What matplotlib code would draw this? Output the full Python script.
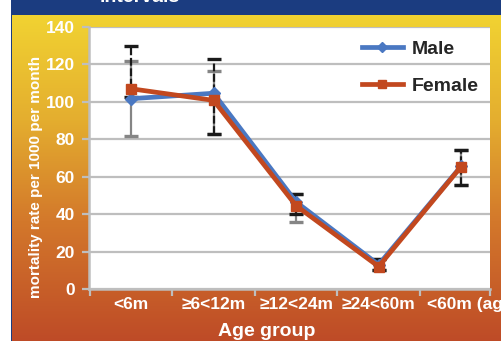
import numpy as np
import matplotlib
matplotlib.use("Agg")
import matplotlib.pyplot as plt
from matplotlib.colors import LinearSegmentedColormap
from matplotlib.patches import Rectangle
from matplotlib.lines import Line2D
from matplotlib.transforms import ScaledTranslation

plt.rcParams['font.family'] = ['Liberation Sans', 'DejaVu Sans']

categories = ['<6m', '≥6<12m', '≥12<24m', '≥24<60m', '<60m (aggregate)']
male = [101.7, 104.6, 46.5, 13.0, 65.6]
female = [107.0, 100.8, 44.5, 12.0, 65.4]
male_lo = [81.8, 83.0, 36.0, 10.2, 55.6]
male_hi = [122.0, 116.7, 50.8, 16.0, 74.3]
female_lo = [102.8, 83.0, 40.1, 10.2, 55.6]
female_hi = [130.1, 123.0, 50.8, 16.0, 74.3]
yticks = [0, 20, 40, 60, 80, 100, 120, 140]

W, H = 502, 341
fig = plt.figure(figsize=(W / 100, H / 100), dpi=100)

# background gradient
bg = fig.add_axes([0, 0, 1, 1], zorder=-10)
stops = [(0.0, '#F3D832'), (0.35, '#E4AE2F'), (0.65, '#D3782B'), (1.0, '#BE4B27')]
cmap = LinearSegmentedColormap.from_list('bg', stops)
grad = np.linspace(0, 1, 256).reshape(-1, 1)
bg.imshow(grad, aspect='auto', cmap=cmap, extent=[0, 1, 0, 1], origin='upper')
bg.set_xlim(0, 1)
bg.set_ylim(0, 1)
bg.axis('off')
bg.add_patch(Rectangle((0, 0), 11 / W, 1, color='white', lw=0))
bg.add_patch(Rectangle((11 / W, 0), 1.2 / W, 1, color='#1B3C80', lw=0))
bg.add_patch(Rectangle((11 / W, 1 - 15 / H), 1, 15 / H, color='#1B3C80', lw=0))
fig.text(100 / W, 1 - 1.5 / H, 'intervals', color='white', fontsize=14,
         fontweight='bold', ha='left', va='baseline')

# main axes
left, right, top, bottom = 89, 490, 27, 289
ax = fig.add_axes([left / W, 1 - bottom / H, (right - left) / W, (bottom - top) / H])
ax.set_facecolor('white')

x = np.arange(len(categories))
blue = '#4A78C2'
red = '#C2481F'
grid_c = '#BEBEBE'

def ebar(vals, lo, hi, color, dashed, z):
    vals = np.array(vals)
    err = [vals - np.array(lo), np.array(hi) - vals]
    _, caps, bars = ax.errorbar(x, vals, yerr=err, fmt='none', ecolor=color,
                                elinewidth=1.6, capsize=4.8, capthick=2.4, zorder=z)
    if dashed:
        bars[0].set_linestyle((0, (3.5, 1.2)))

ebar(male, male_lo, male_hi, '#858585', False, 3)
ebar(female, female_lo, female_hi, '#1A1A1A', True, 4)

ax.plot(x, male, color=blue, lw=3.4, marker='D', ms=6, zorder=5, label='Male')
ax.plot(x, female, color=red, lw=3.4, marker='s', ms=6.5, zorder=6, label='Female')

ax.set_ylim(0, 140)
ax.set_xlim(-0.51, 4.35)
ax.set_yticks(yticks)
ax.set_yticklabels([str(v) for v in yticks])
ax.yaxis.grid(True, color=grid_c, lw=1.6, zorder=0)
ax.set_axisbelow(True)

ax.set_xticks([-0.5, 0.5, 1.5, 2.5, 3.5, 4.35])
ax.set_xticklabels([])
ax.set_xticks(x, minor=True)
ax.set_xticklabels(categories, minor=True)
ax.tick_params(axis='x', which='major', length=5, width=1.6, color=grid_c, direction='out')
ax.tick_params(axis='x', which='minor', length=0, pad=6, labelsize=12.5, labelcolor='white')
ax.tick_params(axis='y', length=5, width=1.6, color=grid_c, pad=5, labelsize=12.5, labelcolor='white')
xlabs = ax.get_xticklabels(minor=True)
for lab in xlabs + ax.get_yticklabels():
    lab.set_fontweight('bold')
# last label starts at the category boundary (it runs off the picture edge)
last = xlabs[-1]
last.set_horizontalalignment('left')
last.set_transform(last.get_transform() + ScaledTranslation(-0.345, 0, fig.dpi_scale_trans))

for s in ['top', 'right']:
    ax.spines[s].set_visible(False)
for s in ['left', 'bottom']:
    ax.spines[s].set_color(grid_c)
    ax.spines[s].set_linewidth(1.8)

fig.text(36 / W, 1 - 177 / H, 'mortality rate per 1000 per month', rotation=90,
         color='white', fontsize=11, fontweight='bold', ha='center', va='center')
fig.text(267 / W, 1 - 331 / H, 'Age group', color='white', fontsize=14,
         fontweight='bold', ha='center', va='center')

handles = [Line2D([], [], color=blue, lw=3.4, marker='D', ms=5),
           Line2D([], [], color=red, lw=3.4, marker='s', ms=5.5)]
leg = fig.legend(handles, ['Male', 'Female'], loc='upper left',
                 bbox_to_anchor=(362 / W, 1 - 40 / H), frameon=False,
                 borderpad=0, borderaxespad=0, handlelength=2.1, handletextpad=0.45,
                 labelspacing=1.0, prop={'weight': 'bold', 'size': 14})
for t in leg.get_texts():
    t.set_color('#262626')

fig.savefig('out.png', dpi=100)
